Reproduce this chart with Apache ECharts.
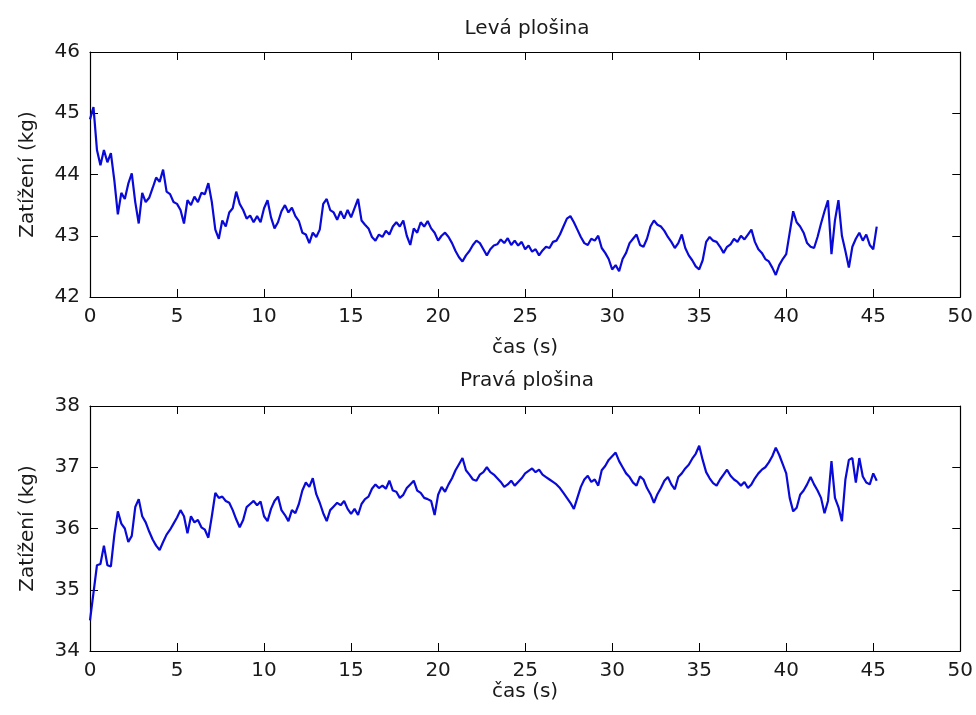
<!DOCTYPE html>
<html>
<head>
<meta charset="utf-8">
<script src="https://cdn.jsdelivr.net/npm/echarts@6/dist/echarts.min.js"></script>
<style>
html,body{margin:0;padding:0;background:#fff;}
#chart{width:976px;height:715px;}
</style>
</head>
<body>
<div id="chart"></div>
<script>
// ---- data ----
const sampleStep = 0.2; // seconds between samples, first sample at t = 0
const xTicks = [0, 5, 10, 15, 20, 25, 30, 35, 40, 45, 50];
const leftTicks = [42, 43, 44, 45, 46];
const rightTicks = [34, 35, 36, 37, 38];
const leftTitle = 'Levá plošina';
const rightTitle = 'Pravá plošina';
const xName = 'čas (s)';
const yName = 'Zatížení (kg)';

// Levá plošina (kg), samples every 0.2 s
const leftLoad = [
  44.9, 45.1, 44.4, 44.15, 44.4, 44.2, 44.35, 43.9, 43.35, 43.7,
  43.6, 43.85, 44.02, 43.55, 43.2, 43.7, 43.55, 43.62, 43.78, 43.95,
  43.88, 44.08, 43.72, 43.68, 43.55, 43.52, 43.42, 43.2, 43.58, 43.5,
  43.64, 43.55, 43.7, 43.68, 43.86, 43.55, 43.1, 42.95, 43.25, 43.15,
  43.38, 43.45, 43.72, 43.52, 43.42, 43.28, 43.33, 43.22, 43.32, 43.22,
  43.45, 43.58, 43.3, 43.12, 43.22, 43.4, 43.5, 43.38, 43.46, 43.32,
  43.24, 43.05, 43.02, 42.88, 43.05, 42.98, 43.1, 43.52, 43.6, 43.42,
  43.38, 43.26, 43.4, 43.28, 43.42, 43.3, 43.45, 43.6, 43.25, 43.18,
  43.12, 42.98, 42.92, 43.02, 42.98, 43.08, 43.02, 43.15, 43.22, 43.15,
  43.25, 43.0, 42.85, 43.12, 43.05, 43.22, 43.15, 43.24, 43.12, 43.05,
  42.92, 43.0, 43.05, 42.98, 42.88, 42.75, 42.65, 42.58, 42.68, 42.75,
  42.85, 42.92, 42.88, 42.78, 42.68, 42.78, 42.84, 42.86, 42.94, 42.88,
  42.96, 42.85, 42.92, 42.84, 42.9, 42.78, 42.84, 42.74, 42.78, 42.68,
  42.76, 42.82, 42.8, 42.9, 42.92, 43.02, 43.15, 43.28, 43.32, 43.22,
  43.1, 42.98, 42.88, 42.85, 42.95, 42.92, 43.0, 42.8, 42.72, 42.62,
  42.45, 42.52, 42.42, 42.62, 42.72, 42.88, 42.95, 43.02, 42.85, 42.82,
  42.95, 43.15, 43.25, 43.18, 43.15, 43.08, 42.98, 42.9, 42.8, 42.88,
  43.02, 42.8, 42.68, 42.6, 42.5, 42.45, 42.6, 42.9, 42.98, 42.92,
  42.9, 42.82, 42.72, 42.82, 42.86, 42.95, 42.9, 43.0, 42.94, 43.02,
  43.1, 42.9, 42.78, 42.72, 42.62, 42.58, 42.48, 42.36, 42.52, 42.62,
  42.7, 43.05, 43.4, 43.22, 43.15, 43.05, 42.88, 42.82, 42.8, 42.98,
  43.2, 43.4, 43.58, 42.7, 43.25, 43.58, 43.0, 42.75, 42.48, 42.82,
  42.95, 43.05, 42.92, 43.02, 42.85, 42.78, 43.15
];

// Pravá plošina (kg), samples every 0.2 s
const rightLoad = [
  34.5, 34.95, 35.4, 35.42, 35.72, 35.4, 35.38, 35.9, 36.28, 36.08,
  36.0, 35.78, 35.88, 36.35, 36.48, 36.2, 36.1, 35.95, 35.82, 35.72,
  35.65, 35.78, 35.9, 35.98, 36.08, 36.18, 36.3, 36.2, 35.92, 36.2,
  36.1, 36.14, 36.02, 35.98, 35.85, 36.2, 36.58, 36.5, 36.52, 36.45,
  36.42, 36.3, 36.15, 36.02, 36.14, 36.35, 36.4, 36.45, 36.38, 36.44,
  36.2, 36.12, 36.32, 36.45, 36.52, 36.3, 36.22, 36.12, 36.3, 36.25,
  36.4, 36.62, 36.75, 36.68, 36.82, 36.56, 36.42, 36.25, 36.12, 36.3,
  36.36, 36.42, 36.38, 36.45, 36.32, 36.24, 36.32, 36.22, 36.4, 36.48,
  36.52, 36.65, 36.72, 36.66, 36.7, 36.65, 36.78, 36.62, 36.6, 36.5,
  36.55, 36.66, 36.72, 36.78, 36.62, 36.58, 36.5, 36.48, 36.45, 36.22,
  36.55, 36.68, 36.6, 36.72, 36.82, 36.95, 37.05, 37.15, 36.95, 36.88,
  36.8, 36.78, 36.88, 36.92, 37.0, 36.92, 36.88, 36.82, 36.76, 36.68,
  36.72, 36.78, 36.7, 36.76, 36.82, 36.9, 36.94, 36.98, 36.92, 36.96,
  36.88, 36.84, 36.8, 36.76, 36.72, 36.66, 36.58, 36.5, 36.42, 36.32,
  36.5, 36.68, 36.8, 36.86, 36.76, 36.8, 36.7, 36.95, 37.02, 37.12,
  37.18, 37.24, 37.1, 37.0, 36.9, 36.84, 36.75, 36.7, 36.85, 36.8,
  36.66, 36.56, 36.42, 36.56, 36.66, 36.78, 36.84, 36.72, 36.64, 36.84,
  36.9, 36.98, 37.04, 37.14, 37.22, 37.35, 37.12, 36.92, 36.82, 36.74,
  36.7, 36.8, 36.88, 36.96, 36.86, 36.8, 36.76, 36.7, 36.76, 36.66,
  36.72, 36.82, 36.9, 36.96, 37.0, 37.08, 37.18, 37.32, 37.2, 37.05,
  36.9, 36.5, 36.28, 36.34, 36.55, 36.62, 36.72, 36.84, 36.72, 36.62,
  36.5, 36.25, 36.45, 37.1, 36.5, 36.35, 36.12, 36.8, 37.12, 37.15,
  36.75, 37.15, 36.85, 36.75, 36.72, 36.9, 36.78
];

// ---- build chart ----
const FONT = 'DejaVu Sans';
const TXT = '#1a1a1a';
const pairs = arr => arr.map((v, i) => [+(i * sampleStep).toFixed(2), v]);

function xAxes(gridIndex, nameGap) {
  const base = {
    gridIndex, type: 'value',
    min: xTicks[0], max: xTicks[xTicks.length - 1], interval: xTicks[1] - xTicks[0],
    splitLine: { show: false },
    axisLine: { show: true, onZero: false, lineStyle: { color: '#000', width: 1.2 } },
    axisTick: { show: true, inside: true, length: 8, lineStyle: { color: '#000', width: 1 } }
  };
  return [
    Object.assign({}, base, {
      position: 'bottom',
      axisLabel: { show: true, margin: 10, fontSize: 20, color: TXT, fontFamily: FONT },
      name: xName, nameLocation: 'middle', nameGap: nameGap,
      nameTextStyle: { fontSize: 20, color: TXT, fontFamily: FONT }
    }),
    Object.assign({}, base, { position: 'top', axisLabel: { show: false } })
  ];
}

function yAxes(gridIndex, ticks) {
  const base = {
    gridIndex, type: 'value',
    min: ticks[0], max: ticks[ticks.length - 1], interval: ticks[1] - ticks[0],
    splitLine: { show: false },
    axisLine: { show: true, onZero: false, lineStyle: { color: '#000', width: 1.2 } },
    axisTick: { show: true, inside: true, length: 8, lineStyle: { color: '#000', width: 1 } }
  };
  return [
    Object.assign({}, base, {
      position: 'left',
      axisLabel: { show: true, margin: 10, fontSize: 20, color: TXT, fontFamily: FONT },
      name: yName, nameLocation: 'middle', nameGap: 52, nameRotate: 90,
      nameTextStyle: { fontSize: 20, color: TXT, fontFamily: FONT }
    }),
    Object.assign({}, base, { position: 'right', axisLabel: { show: false } })
  ];
}

const chart = echarts.init(document.getElementById('chart'), null, { renderer: 'canvas' });
chart.setOption({
  animation: false,
  backgroundColor: '#fff',
  title: [
    { text: leftTitle, left: 522, top: 14, textAlign: 'center',
      textStyle: { fontSize: 20, fontWeight: 'normal', color: TXT, fontFamily: FONT } },
    { text: rightTitle, left: 522, top: 366, textAlign: 'center',
      textStyle: { fontSize: 20, fontWeight: 'normal', color: TXT, fontFamily: FONT } }
  ],
  grid: [
    { left: 90, top: 52, width: 871, height: 245 },
    { left: 90, top: 406, width: 871, height: 245 }
  ],
  xAxis: [].concat(xAxes(0, 41), xAxes(1, 31)),
  yAxis: [].concat(yAxes(0, leftTicks), yAxes(1, rightTicks)),
  series: [
    { type: 'line', xAxisIndex: 0, yAxisIndex: 0, data: pairs(leftLoad),
      showSymbol: false, symbol: 'none', lineStyle: { color: '#0a0ad8', width: 2.2 } },
    { type: 'line', xAxisIndex: 2, yAxisIndex: 2, data: pairs(rightLoad),
      showSymbol: false, symbol: 'none', lineStyle: { color: '#0a0ad8', width: 2.2 } }
  ]
});
</script>
</body>
</html>
